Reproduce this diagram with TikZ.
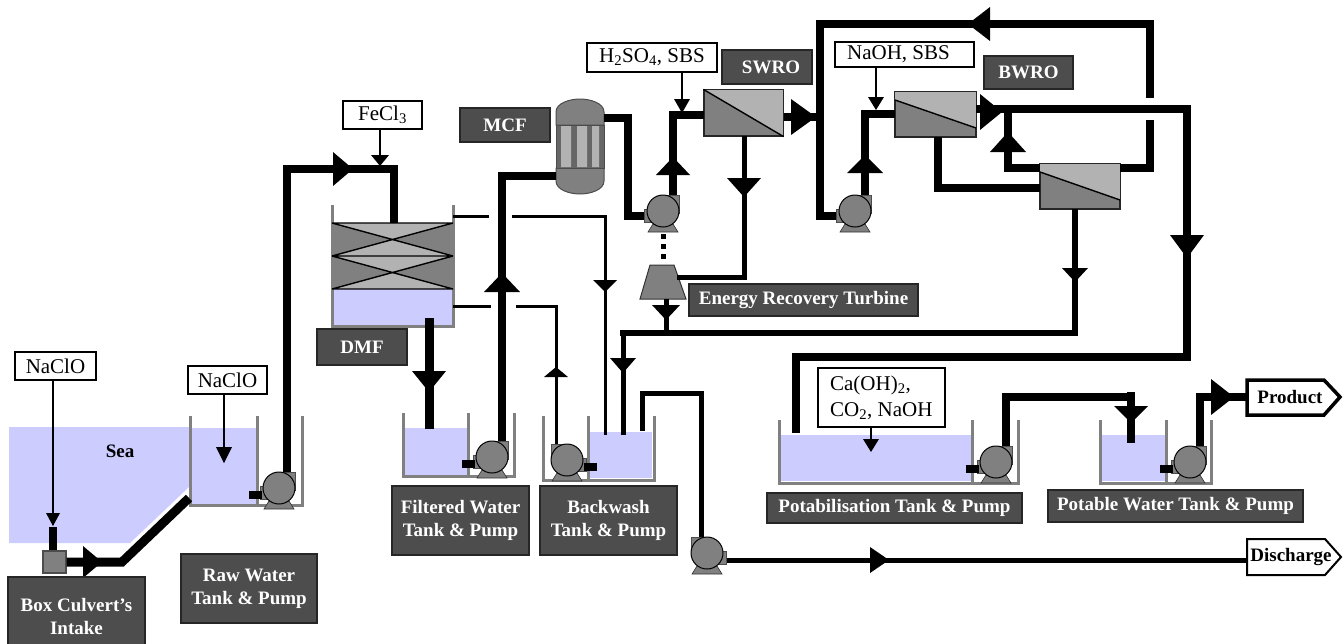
\documentclass[tikz,border=0pt]{standalone}
\usepackage{fontspec}
\usetikzlibrary{calc}
\setmainfont{Liberation Serif}
\definecolor{water}{HTML}{CCCCFF}
\definecolor{mid}{HTML}{808080}
\definecolor{lite}{HTML}{B2B2B2}
\definecolor{labfill}{HTML}{4D4D4D}
\newcommand\ftri[4]{\fill[black,shift={(#1)},rotate=#2] (0,0)--(-#3,#4)--(-#3,-#4)--cycle;}
\tikzset{
  pipe/.style={line width=8pt,black},
  midpipe/.style={line width=5pt,black},
  thinpipe/.style={line width=3pt,black},
  chemline/.style={line width=1.3pt,black},
  wall/.style={line width=3pt,mid},
  lab/.style={draw=black!85,line width=1.2pt,fill=labfill,text=white,align=center,inner sep=0pt,
    font=\fontsize{19}{23}\selectfont\bfseries},
  chem/.style={draw=black,line width=1.2pt,fill=white,text=black,align=left,inner sep=0pt,
    font=\fontsize{21}{26}\selectfont},
  endtxt/.style={inner sep=0pt,text=black,font=\fontsize{19}{23}\selectfont\bfseries},
  memb/.style={draw=black!85,line width=1.2pt,inner sep=0pt},
  pump/.pic={
    \fill[mid,draw=black!80,line width=.6pt] (-15,21)--(15,21)--(10,13)--(-10,13)--cycle;
    \fill[mid,draw=black!70,line width=.6pt] (0,-16) rectangle (16,2);
    \fill[mid,draw=black!70,line width=.6pt] (-19,-2) rectangle (-8,11);
    \fill[mid,draw=black,line width=1pt] (0,0) circle[radius=16pt];
  },
  inlet/.pic={\fill[black] (-30,3) rectangle (-17,11);}
}
\begin{document}
\begin{tikzpicture}[x=1pt,y=-1pt]
\useasboundingbox (0,0) rectangle (1344,643);
\clip (0,0) rectangle (1344,643);
\fill[white] (0,0) rectangle (1344,643);
% water
\fill[water] (9,427)--(189,427)--(189,487)--(130,543)--(9,543)--cycle;
\fill[water] (190,428) rectangle (257,505);
\fill[water] (405,428) rectangle (467,475);
\fill[water] (590,432) rectangle (652,478);
\fill[water] (781,435) rectangle (971,481);
\fill[water] (1102,435) rectangle (1165,481);
\fill[water] (332,289) rectangle (453,326);
% tank walls
\draw[wall] (190,416)--(190,505)--(302,505)--(302,416) (257,416)--(257,505);
\draw[wall] (403,413)--(403,476)--(514,476)--(514,413) (468,413)--(468,476);
\draw[wall] (543,416)--(543,480)--(654,480)--(654,416) (588,416)--(588,480);
\draw[wall] (779,420)--(779,483)--(1018,483)--(1018,420) (972,420)--(972,483);
\draw[wall] (1100,420)--(1100,483)--(1211,483)--(1211,420) (1166,420)--(1166,483);
\draw[wall] (332,205)--(332,326)--(453,326)--(453,205);
% DMF media
\fill[lite] (332,223) rectangle (453,289);
\fill[mid] (332,223)--(392,240)--(332,256)--cycle (453,223)--(392,240)--(453,256)--cycle;
\fill[mid] (332,256)--(392,273)--(332,289)--cycle (453,256)--(392,273)--(453,289)--cycle;
\draw[black,line width=1.4pt] (332,223)--(453,223) (332,256)--(453,256) (332,289)--(453,289)
  (332,223)--(453,256) (332,256)--(453,223) (332,256)--(453,289) (332,289)--(453,256);
% named equipment
\node[memb,fill=mid,minimum width=79pt,minimum height=46pt] (swro) at (743.5,113) {};
\node[memb,fill=mid,minimum width=81pt,minimum height=45pt] (bw1) at (935.5,114.5) {};
\node[memb,fill=mid,minimum width=80pt,minimum height=45pt] (bw2) at (1080,186.5) {};
\fill[lite] (swro.north west)--(swro.north east)--(swro.south east)--cycle;
\fill[lite] (895,92)--(976,92)--(976,128)--(895,100)--cycle;
\fill[lite] (1040,164)--(1120,164)--(1120,200)--(1040,172)--cycle;
\draw[memb] (swro.north west) rectangle (swro.south east);
\draw[memb] (bw1.north west) rectangle (bw1.south east);
\draw[memb] (bw2.north west) rectangle (bw2.south east);
\draw[black,line width=1.4pt] (swro.north west)--(swro.south east) (895,100)--(976,128) (1040,172)--(1120,200);
% MCF
\node[inner sep=0pt,minimum width=48pt,minimum height=95pt] (mcf) at (580,146.5) {};
\fill[mid,draw=black!70,line width=1pt] (556,125) -- (556,112) .. controls (556,103) and (570,99) .. (580,99) .. controls (590,99) and (604,103) .. (604,112) -- (604,125) -- cycle;
\fill[mid,draw=black!70,line width=1pt] (556,168) -- (556,181) .. controls (556,190) and (570,194) .. (580,194) .. controls (590,194) and (604,190) .. (604,181) -- (604,168) -- cycle;
\fill[black!60,draw=black!70,line width=1pt] (556,125) rectangle (604,168);
\fill[lite] (561,126) rectangle (571,167) (577,126) rectangle (587,167) (592,126) rectangle (599,167);
% turbine
\node[inner sep=0pt,minimum width=46pt,minimum height=34pt] (turb) at (663,282) {};
\fill[mid,draw=black!80,line width=1pt] (650,265)--(674,265)--(686,299)--(640,299)--cycle;
% Box culvert square
\node[draw=black!70,line width=1.2pt,fill=mid,inner sep=0pt,minimum width=23pt,minimum height=22pt] (box) at (54.5,562) {};
% pipe junctions
\coordinate (sw) at (820,117);
% pumps
\coordinate (c1) at (279,488);
\coordinate (c2) at (492,457);
\coordinate (c3) at (663,211);
\coordinate (c4) at (855,211);
\coordinate (c5) at (567,460);
\coordinate (c6) at (707,553);
\coordinate (c7) at (996,462);
\coordinate (c8) at (1190,462);
% pipes
\draw[pipe,line width=9pt] (box.east) -- (122,562) -- (189,498);
\draw[pipe] (53,527)--(box.north -| 53,0);
\draw[pipe] ($(c1)+(8,-16)$) -- (287,169) -- (394,169) -- (394,223);
\draw[pipe,line width=9pt] (429,318)--(429,429);
\draw[pipe] ($(c2)+(10,-16)$) -- (502,172);
\draw[pipe] (498,176) -- (556,176);
\draw[pipe] (604,118)--(628,118)--(628,216)--($(c3)+(-10,5)$);
\draw[pipe] ($(c3)+(10,-16)$) -- (673,115) -- (704,115);
\draw[pipe] (swro.east |- sw) -- (sw);
\draw[pipe] ($(c4)+(-10,5)$) -- (820,216) -- (820,24) -- (1150,24) -- (1150,98);
\draw[pipe] (1150,120) -- (1150,168) -- (1120,168);
\draw[pipe] ($(c4)+(10,-16)$) -- (865,114) -- (895,114);
\draw[pipe] (976,109) -- (1187,109) -- (1187,357) -- (796,357) -- (796,433);
\draw[pipe] (1040,168) -- (1008,168) -- (1008,109);
\draw[pipe] (938,137) -- (938,188) -- (1040,188);
\draw[midpipe] (744,136) -- (744,277) -- (677,277);
\draw[midpipe] (666,299) -- (666,333);
\draw[midpipe,line width=6pt] (1075,209) -- (1075,333) -- (620,333);
\draw[midpipe] (623,331) -- (623,435);
\draw[thinpipe] (453,216)--(489,216);
\draw[thinpipe] (512,216)--(605,216)--(605,435);
\draw[thinpipe] (453,306)--(491,306);
\draw[thinpipe] (516,306)--(556,306)--(556,445);
\draw[midpipe] (642,431)--(642,393)--(701,393)--(701,537);
\draw[midpipe] ($(c6)+(14,7)$)--(1248,560);
\draw[pipe] ($(c7)+(10,-16)$)--(1006,397)--(1135,397);
\draw[pipe] (1131,392)--(1131,443);
\draw[pipe] ($(c8)+(10,-16)$)--(1200,397)--(1248,397);
\draw[line width=5pt,dash pattern=on 5pt off 5pt] (c3 |- 0,234)--(c3 |- 0,263);
% pump pics
\pic at (c1) {pump}; \pic at (c1) {inlet};
\pic at (c2) {pump}; \pic at (c2) {inlet};
\pic at (c3) {pump};
\pic at (c4) {pump};
\pic[xscale=-1] at (c5) {pump}; \pic[xscale=-1] at (c5) {inlet};
\pic[xscale=-1] at (c6) {pump};
\pic at (c7) {pump}; \pic at (c7) {inlet};
\pic at (c8) {pump}; \pic at (c8) {inlet};
% flow arrowheads
\ftri{102,562}{0}{19}{16}
\ftri{353,169}{0}{20}{17}
\ftri{429,392}{-90}{21}{17}
\ftri{502,273}{90}{19}{18}
\ftri{605,292}{-90}{12}{12}
\ftri{556,367}{90}{10}{12}
\ftri{673,157}{90}{18}{17}
\ftri{816,117}{0}{25}{18}
\ftri{744,197}{-90}{19}{17}
\ftri{666,320}{-90}{15}{14}
\ftri{623,373}{-90}{15}{13}
\ftri{968,24}{180}{22}{17}
\ftri{865,155}{90}{18}{18}
\ftri{1002,112}{0}{22}{18}
\ftri{1008,132}{90}{20}{18}
\ftri{1187,258}{-90}{23}{17}
\ftri{1075,282}{-90}{14}{13}
\ftri{889,560}{0}{19}{13}
\ftri{1131,423}{-90}{17}{17}
\ftri{1234,397}{0}{23}{18}
% chemicals
\node[chem,minimum width=81pt,minimum height=28pt,align=center] (naclo1) at (55.5,366) {NaClO};
\node[chem,minimum width=79pt,minimum height=28pt,align=center] (naclo2) at (227.5,380) {NaClO};
\node[chem,minimum width=79pt,minimum height=28pt,align=center] (fecl) at (382.5,115) {FeCl\textsubscript{3}};
\node[chem,minimum width=130pt,minimum height=29pt,align=center] (hso) at (652,57.5) {H\textsubscript{2}SO\textsubscript{4}, SBS};
\node[chem,minimum width=139pt,minimum height=25pt] (naoh) at (904.5,54.5) {\hspace*{9pt}NaOH, SBS\hspace*{21pt}};
\node[chem,minimum width=127pt,minimum height=59pt] (lime) at (881.5,397.5) {\hspace*{8pt}Ca(OH)\textsubscript{2},\hspace*{30pt}\\\hspace*{8pt}CO\textsubscript{2}, NaOH};
\draw[chemline] (naclo1.south -| 53,0) -- (53,525);
\draw[chemline] (naclo2.south -| 224,0) -- (224,462);
\draw[chemline] (fecl.south -| 380,0) -- (380,165);
\draw[chemline] (hso.south -| 682,0) -- (682,112);
\draw[chemline] (naoh.south -| 876,0) -- (876,109);
\draw[chemline] (lime.south -| 871,0) -- (871,451);
\ftri{53,526}{-90}{13}{7}
\ftri{224,463}{-90}{16}{8}
\ftri{380,166}{-90}{11}{9}
\ftri{682,113}{-90}{14}{8}
\ftri{876,110}{-90}{13}{8}
\ftri{871,452}{-90}{13}{8}
% labels
\node[lab,minimum width=137pt,minimum height=78pt] (lbox) at (76.5,616) {Box Culvert's\\Intake};
\node[lab,minimum width=136pt,minimum height=69pt] (lraw) at (249,588.5) {Raw Water\\Tank \& Pump};
\node[lab,minimum width=137pt,minimum height=69pt] (lfilt) at (460.5,520.5) {Filtered Water\\Tank \& Pump};
\node[lab,minimum width=137pt,minimum height=69pt] (lback) at (608.5,520.5) {Backwash\\Tank \& Pump};
\node[lab,minimum width=90pt,minimum height=36pt] (ldmf) at (362,347) {DMF};
\node[lab,minimum width=90pt,minimum height=34pt] (lmcf) at (505,125) {MCF};
\node[lab,minimum width=90pt,minimum height=34pt] (lswro) at (767,67) {\hspace*{8pt}SWRO};
\node[lab,minimum width=89pt,minimum height=33pt] (lbwro) at (1028.5,72.5) {BWRO};
\node[lab,minimum width=229pt,minimum height=32pt] (lert) at (803.5,300) {Energy Recovery Turbine};
\node[lab,minimum width=255pt,minimum height=30pt] (lpot) at (894.5,508) {Potabilisation Tank \& Pump};
\node[lab,minimum width=255pt,minimum height=32pt] (lptw) at (1175.5,506) {Potable Water Tank \& Pump};
\node[font=\fontsize{19}{23}\selectfont\bfseries,inner sep=0pt] (sea) at (120,451) {Sea};
% terminals
\draw[black,line width=3.5pt,fill=white] (1247,380)--(1324,380)--(1340,397)--(1324,415)--(1247,415)--cycle;
\node[endtxt] (product) at (1290,397) {Product};
\draw[black,line width=2pt,fill=white] (1247,539)--(1325,539)--(1341,557)--(1325,575)--(1247,575)--cycle;
\node[endtxt] (discharge) at (1291,557) {Discharge};
\end{tikzpicture}
\end{document}
